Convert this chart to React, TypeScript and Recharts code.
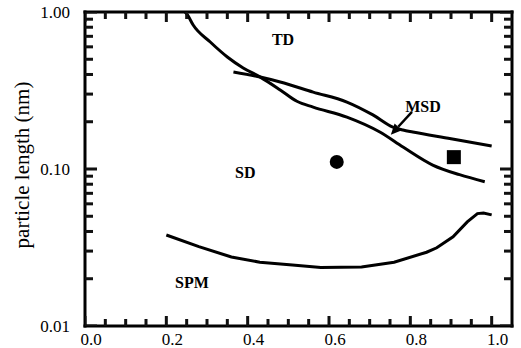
import { ComposedChart, Line, Scatter, XAxis, YAxis, ReferenceLine } from 'recharts'

const tdX = [0.246, 0.252, 0.266, 0.308, 0.35, 0.389, 0.431, 0.48, 0.521, 0.561, 0.644, 0.725, 0.782, 0.855, 0.921, 0.983]
const tdY = [1.0, 0.957, 0.826, 0.644, 0.517, 0.44, 0.385, 0.319, 0.27, 0.248, 0.214, 0.172, 0.138, 0.106, 0.092, 0.083]

const msdX = [0.365, 0.431, 0.48, 0.561, 0.644, 0.708, 0.757, 0.782, 0.806, 0.9, 1.0]
const msdY = [0.415, 0.385, 0.358, 0.309, 0.267, 0.221, 0.185, 0.177, 0.172, 0.156, 0.14]

const spmX = [0.2, 0.28, 0.36, 0.43, 0.51, 0.58, 0.68, 0.76, 0.84, 0.865, 0.905, 0.94, 0.965, 0.98, 1.0]
const spmY = [0.038, 0.032, 0.0275, 0.0255, 0.0245, 0.0236, 0.0238, 0.0255, 0.0295, 0.0315, 0.037, 0.046, 0.052, 0.0525, 0.051]

const circlePt = [{ x: 0.619, y: 0.111 }]
const squarePt = [{ x: 0.907, y: 0.119 }]

const regionNames = ['TD', 'SD', 'SPM', 'MSD']
const regionX = [0.487, 0.394, 0.263, 0.831]
const regionY = [0.673, 0.0955, 0.0191, 0.252]

const arrowFrom = { x: 0.804, y: 0.231 }
const arrowTo = { x: 0.752, y: 0.165 }

const X_MIN = 0
const X_MAX = 1.05
const Y_MIN = 0.01
const Y_MAX = 1

const xTicks = [0, 0.05, 0.1, 0.15, 0.2, 0.25, 0.3, 0.35, 0.4, 0.45, 0.5, 0.55, 0.6, 0.65, 0.7, 0.75, 0.8, 0.85, 0.9, 0.95, 1.0]
const xMajor = [0, 0.2, 0.4, 0.6, 0.8, 1.0]
const yTicks = [
  0.01, 0.02, 0.03, 0.04, 0.05, 0.06, 0.07, 0.08, 0.09,
  0.1, 0.2, 0.3, 0.4, 0.5, 0.6, 0.7, 0.8, 0.9, 1.0,
]
const yMajor = [0.01, 0.1, 1.0]

const zip = (xs: number[], ys: number[]) => xs.map((x, i) => ({ x, y: ys[i] }))
const tdData = zip(tdX, tdY)
const msdData = zip(msdX, msdY)
const spmData = zip(spmX, spmY)
const labelData = regionNames.map((text, i) => ({ x: regionX[i], y: regionY[i], text }))

const FONT = '"Liberation Serif", "Times New Roman", serif'
const isMajor = (v: number, list: number[]) => list.some((m) => Math.abs(m - v) < 1e-9)
const TW = 3
const TICK = '#111111'

// inward tick marks on all four sides, placed through the chart scales
const bottomTickPts = xTicks.map((v) => ({ x: v, y: Y_MIN, len: isMajor(v, xMajor) ? 10 : 7 }))
const topTickPts = xTicks.map((v) => ({ x: v, y: Y_MAX, len: isMajor(v, xMajor) ? 10 : 7 }))
const leftTickPts = yTicks.map((v) => ({ x: X_MIN, y: v, len: isMajor(v, yMajor) ? 12 : 8 }))
const rightTickPts = yTicks.map((v) => ({ x: X_MAX, y: v, len: isMajor(v, yMajor) ? 12 : 8 }))

// default tickSize (6) + tickMargin (2) puts the label anchor 8px off the axis
function BottomLabel({ x, y, payload }: any) {
  if (!isMajor(payload.value, xMajor)) return <g />
  return (
    <text x={x + 6} y={y + 11} textAnchor="middle" fontSize={17} fontFamily={FONT} fill="#000">
      {payload.value.toFixed(1)}
    </text>
  )
}

function LeftLabel({ x, y, payload }: any) {
  if (!isMajor(payload.value, yMajor)) return <g />
  return (
    <text x={x - 7} y={y + 6} textAnchor="end" fontSize={17} fontFamily={FONT} fill="#000">
      {payload.value.toFixed(2)}
    </text>
  )
}

function Arrow({ x1, y1, x2, y2 }: any) {
  const ang = Math.atan2(y2 - y1, x2 - x1)
  const len = 11
  const w = 5
  const bx = x2 - len * Math.cos(ang)
  const by = y2 - len * Math.sin(ang)
  const px = -Math.sin(ang) * w
  const py = Math.cos(ang) * w
  return (
    <g>
      <line x1={x1} y1={y1} x2={bx} y2={by} stroke="#000" strokeWidth={2.5} />
      <polygon points={`${x2},${y2} ${bx + px},${by + py} ${bx - px},${by - py}`} fill="#000" />
    </g>
  )
}

function YLabel() {
  return (
    <text
      x={22}
      y={165}
      transform="rotate(-90, 22, 165)"
      textAnchor="middle"
      dominantBaseline="central"
      fontSize={21}
      fontFamily={FONT}
      fill="#000"
    >
      particle length (nm)
    </text>
  )
}

export default function App() {
  return (
    <div style={{ position: 'fixed', left: 0, top: 0, width: 521, height: 348, background: '#fff' }}>
      <ComposedChart width={521} height={348} margin={{ top: 12, right: 9, bottom: 0, left: 25 }}>
        <XAxis
          type="number"
          dataKey="x"
          domain={[X_MIN, X_MAX]}
          ticks={xTicks}
          interval={0}
          allowDataOverflow
          height={22}
          tickLine={false}
          axisLine={false}
          tick={(p: any) => <BottomLabel {...p} />}
        />
        <YAxis
          type="number"
          dataKey="y"
          scale="log"
          domain={[Y_MIN, Y_MAX]}
          ticks={yTicks}
          interval={0}
          allowDataOverflow
          width={60}
          tickLine={false}
          axisLine={false}
          tick={(p: any) => <LeftLabel {...p} />}
          label={{ content: () => <YLabel /> }}
        />
        <ReferenceLine x={X_MIN} stroke="#000" strokeWidth={3} strokeLinecap="square" />
        <ReferenceLine x={X_MAX} stroke="#000" strokeWidth={3} strokeLinecap="square" />
        <ReferenceLine y={Y_MIN} stroke="#000" strokeWidth={3} strokeLinecap="square" />
        <ReferenceLine y={Y_MAX} stroke="#000" strokeWidth={3} strokeLinecap="square" />
        <Scatter data={bottomTickPts} dataKey="y" fill={TICK} isAnimationActive={false}
          shape={(p: any) => <rect x={p.cx - TW / 2} y={p.cy - p.payload.len} width={TW} height={p.payload.len} fill={TICK} />} />
        <Scatter data={topTickPts} dataKey="y" fill={TICK} isAnimationActive={false}
          shape={(p: any) => <rect x={p.cx - TW / 2} y={p.cy} width={TW} height={p.payload.len} fill={TICK} />} />
        <Scatter data={leftTickPts} dataKey="y" fill={TICK} isAnimationActive={false}
          shape={(p: any) => <rect x={p.cx} y={p.cy - TW / 2} width={p.payload.len} height={TW} fill={TICK} />} />
        <Scatter data={rightTickPts} dataKey="y" fill={TICK} isAnimationActive={false}
          shape={(p: any) => <rect x={p.cx - p.payload.len} y={p.cy - TW / 2} width={p.payload.len} height={TW} fill={TICK} />} />
        <Line data={tdData} dataKey="y" type="monotone" stroke="#000" strokeWidth={3} dot={false} isAnimationActive={false} />
        <Line data={msdData} dataKey="y" type="monotone" stroke="#000" strokeWidth={3} dot={false} isAnimationActive={false} />
        <Line data={spmData} dataKey="y" type="linear" stroke="#000" strokeWidth={3} dot={false} isAnimationActive={false} />
        <Scatter data={circlePt} dataKey="y" fill="#000" isAnimationActive={false}
          shape={(p: any) => <circle cx={p.cx} cy={p.cy} r={7} fill="#000" />} />
        <Scatter data={squarePt} dataKey="y" fill="#000" isAnimationActive={false}
          shape={(p: any) => <rect x={p.cx - 7} y={p.cy - 7} width={14} height={14} fill="#000" />} />
        <Scatter data={labelData} dataKey="y" isAnimationActive={false}
          shape={(p: any) => (
            <text x={p.cx} y={p.cy + 6} textAnchor="middle" fontSize={16} fontWeight="bold" fontFamily={FONT} fill="#000">
              {p.payload.text}
            </text>
          )} />
        <ReferenceLine segment={[arrowFrom, arrowTo]} stroke="#000" shape={(p: any) => <Arrow {...p} />} />
      </ComposedChart>
    </div>
  )
}
